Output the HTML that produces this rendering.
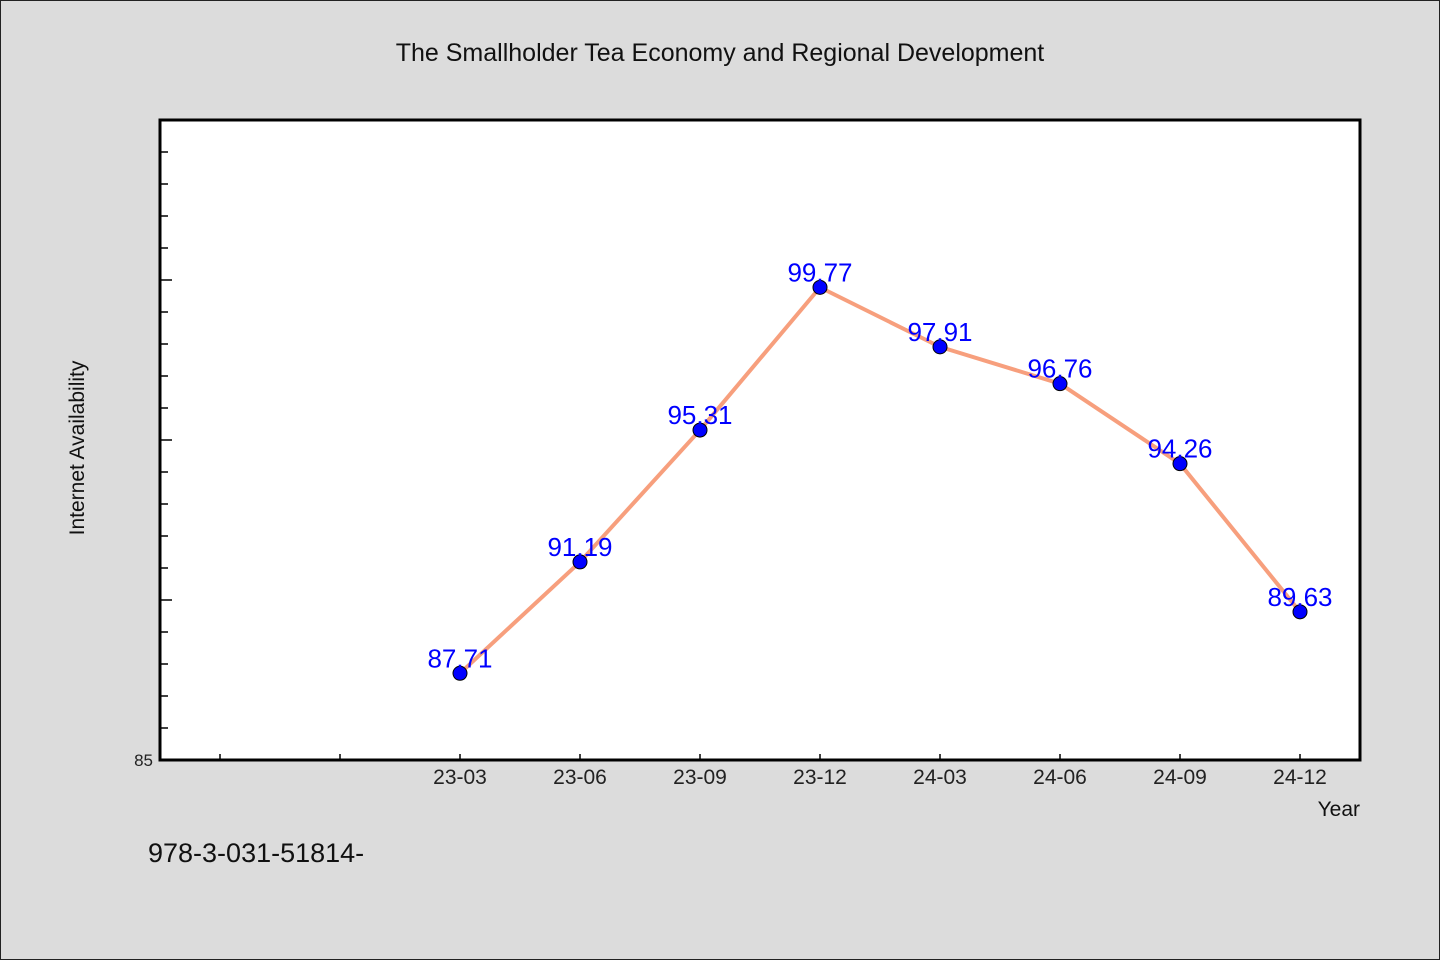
<!DOCTYPE html>
<html><head><meta charset="utf-8"><style>
body{margin:0;background:#dcdcdc;}
svg{display:block;font-family:"WenQuanYi Zen Hei","Liberation Sans",sans-serif;}
</style></head><body>
<svg id="chart" width="1440" height="960">
<rect x="0.5" y="0.5" width="1439" height="959" fill="#dcdcdc" stroke="#222"/>
<text x="720" y="61" text-anchor="middle" font-size="25" fill="#111">The Smallholder Tea Economy and Regional Development</text>
<rect x="160" y="120" width="1200" height="640" fill="#fff" stroke="#000" stroke-width="3"/>
<text transform="translate(84,448) rotate(-90)" text-anchor="middle" font-size="21" fill="#111">Internet Availability</text>
<text x="1360" y="816" text-anchor="end" font-size="21" fill="#111">Year</text>
<text x="148" y="862" font-size="27" fill="#111">978-3-031-51814-</text>
<g id="axes"></g>
<g id="series"></g>
</svg>
<script>
const categories=["23-03","23-06","23-09","23-12","24-03","24-06","24-09","24-12"];
const values=[87.71,91.19,95.31,99.77,97.91,96.76,94.26,89.63];
const valueLabels=["87.71","91.19","95.31","99.77","97.91","96.76","94.26","89.63"];
const yMin=85,yMax=105;
const NS="http://www.w3.org/2000/svg";
const L=160,R=1360,T=120,B=760;
function xs(i){return L+(i+2.5)*(R-L)/10;}
function ys(v){return B-(v-yMin)*(B-T)/(yMax-yMin);}
function mk(tag,attrs,parent){const e=document.createElementNS(NS,tag);for(const k in attrs)e.setAttribute(k,attrs[k]);parent.appendChild(e);return e;}
const axes=document.getElementById('axes'),ser=document.getElementById('series');
for(let v=yMin+1;v<yMax;v++){
 const y=ys(v),len=(v%5===0)?12:8;
 const t=mk('line',{x1:L,x2:L+len,y1:y,y2:y,stroke:'#000','stroke-width':1.5},axes);
 
 
}
const yl=mk('text',{x:153,y:ys(yMin)+6,'text-anchor':'end','font-size':17,fill:'#222'},axes);
yl.textContent=String(yMin);


for(let i=-2;i<categories.length;i++){
 const x=xs(i);
 const t=mk('line',{x1:x,x2:x,y1:B,y2:B-6,stroke:'#000','stroke-width':1.5},axes);
 
 
 if(i>=0){
  const lb=mk('text',{x:x,y:784,'text-anchor':'middle','font-size':21,fill:'#222'},axes);
  lb.textContent=categories[i];
  
  
 }
}
const pts=values.map((v,i)=>xs(i)+','+ys(v)).join(' ');
const line=mk('polyline',{points:pts,fill:'none',stroke:'#f79f7d','stroke-width':4,'stroke-linejoin':'round'},ser);


values.forEach((v,i)=>{
 const c=mk('circle',{cx:xs(i),cy:ys(v),r:7,fill:'#0000ff',stroke:'#000','stroke-width':1},ser);
 
 
 const t=mk('text',{x:xs(i),y:ys(v)-6,'text-anchor':'middle','font-size':26,fill:'#0000ff'},ser);
 t.textContent=valueLabels[i];
 
 
});
</script>
</body></html>
